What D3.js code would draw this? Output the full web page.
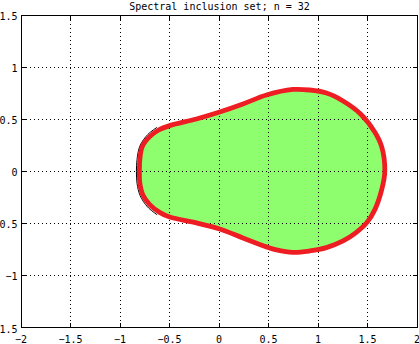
<!DOCTYPE html>
<html>
<head>
<meta charset="utf-8">
<script src="https://cdn.jsdelivr.net/npm/d3@7"></script>
<style>
  html, body { margin: 0; padding: 0; background: #fff; }
  svg { display: block; }
  text { font-family: "DejaVu Sans Mono", monospace; font-size: 10px; fill: #000; }
</style>
</head>
<body>
<script>
// Spectral inclusion set, n = 32

var titleText = "Spectral inclusion set; n = 32";

var xTicks = [-2, -1.5, -1, -0.5, 0, 0.5, 1, 1.5, 2];
var yTicks = [-1.5, -1, -0.5, 0, 0.5, 1, 1.5];

// red boundary curve (counter-clockwise from the right)
var boundX = [1.675, 1.643, 1.573, 1.430, 1.253, 1.085, 0.916, 0.747, 0.479, 0.242, 0.007, -0.228, -0.498, -0.609, -0.700, -0.776, -0.800,
              -0.804, -0.800, -0.770, -0.700, -0.600, -0.498, -0.228, 0.007, 0.242, 0.479, 0.580, 0.747, 0.916, 1.085, 1.253, 1.381, 1.492, 1.573, 1.643];
var boundY = [0.000, 0.236, 0.377, 0.550, 0.675, 0.751, 0.780, 0.785, 0.732, 0.646, 0.569, 0.502, 0.438, 0.396, 0.332, 0.236, 0.110,
              0.000, -0.112, -0.225, -0.320, -0.395, -0.440, -0.496, -0.554, -0.640, -0.726, -0.755, -0.779, -0.765, -0.733, -0.669, -0.591, -0.495, -0.371, -0.179];

// thin black edge that peeks out on the left side
var edgeX = [-0.625, -0.718, -0.798, -0.828, -0.834, -0.828, -0.796, -0.722, -0.625];
var edgeY = [0.422, 0.354, 0.245, 0.112, 0.000, -0.115, -0.235, -0.342, -0.418];

function init() {
    var w = 419;
    var h = 344;

    var svg = d3.select("body")
                .append("svg")
                .attr("width", w)
                .attr("height", h);

    var xScale = d3.scaleLinear().domain([-2, 2]).range([21, 417]);
    var yScale = d3.scaleLinear().domain([-1.5, 1.5]).range([327.5, 15]);

    // snap to pixel centres so 1px lines stay crisp
    function px(v) { return Math.floor(v) + 0.5; }

    var x0 = px(xScale(-2)), x1 = px(xScale(2));
    var y0 = px(yScale(-1.5)), y1 = px(yScale(1.5));

    // patch + boundary
    var boundPts = boundX.map(function (d, i) { return [d, boundY[i]]; });
    var edgePts = edgeX.map(function (d, i) { return [d, edgeY[i]]; });

    var closedLine = d3.line()
        .x(function (d) { return xScale(d[0]); })
        .y(function (d) { return yScale(d[1]); })
        .curve(d3.curveCatmullRomClosed);

    var openLine = d3.line()
        .x(function (d) { return xScale(d[0]); })
        .y(function (d) { return yScale(d[1]); })
        .curve(d3.curveCatmullRom);

    svg.append("path")
        .attr("d", closedLine(boundPts))
        .attr("fill", "#8ffe6e")
        .attr("stroke", "none");

    // dotted grid (drawn over the patch, as in the original)
    var grid = svg.append("g")
        .attr("stroke", "#000")
        .attr("stroke-width", 1)
        .attr("stroke-dasharray", "1,3")
        .attr("shape-rendering", "crispEdges");

    grid.selectAll("line.gx")
        .data(xTicks.slice(1, -1))
        .enter()
        .append("line")
        .attr("class", "gx")
        .attr("x1", function (d) { return px(xScale(d)); })
        .attr("x2", function (d) { return px(xScale(d)); })
        .attr("y1", y1)
        .attr("y2", y0);

    grid.selectAll("line.gy")
        .data(yTicks.slice(1, -1))
        .enter()
        .append("line")
        .attr("class", "gy")
        .attr("y1", function (d) { return px(yScale(d)); })
        .attr("y2", function (d) { return px(yScale(d)); })
        .attr("x1", x0)
        .attr("x2", x1);

    svg.append("path")
        .attr("d", openLine(edgePts))
        .attr("fill", "none")
        .attr("stroke", "#000")
        .attr("stroke-width", 1);

    svg.append("path")
        .attr("d", closedLine(boundPts))
        .attr("fill", "none")
        .attr("stroke", "#ee1d23")
        .attr("stroke-width", 4.8)
        .attr("stroke-linejoin", "round");

    // axes box with inward ticks on all four sides
    var axes = svg.append("g")
        .attr("stroke", "#000")
        .attr("stroke-width", 1)
        .attr("shape-rendering", "crispEdges");

    axes.append("rect")
        .attr("x", x0).attr("y", y1)
        .attr("width", x1 - x0).attr("height", y0 - y1)
        .attr("fill", "none");

    var tl = 5;
    xTicks.forEach(function (d) {
        var x = px(xScale(d));
        axes.append("line").attr("x1", x).attr("x2", x).attr("y1", y0).attr("y2", y0 - tl);
        axes.append("line").attr("x1", x).attr("x2", x).attr("y1", y1).attr("y2", y1 + tl);
    });
    yTicks.forEach(function (d) {
        var y = px(yScale(d));
        axes.append("line").attr("y1", y).attr("y2", y).attr("x1", x0).attr("x2", x0 + tl);
        axes.append("line").attr("y1", y).attr("y2", y).attr("x1", x1).attr("x2", x1 - tl);
    });

    // tick labels (the minus signs of the y labels fall off the left edge, as in the original)
    svg.selectAll("text.xl")
        .data(xTicks)
        .enter()
        .append("text")
        .attr("class", "xl")
        .attr("x", function (d) { return xScale(d); })
        .attr("y", 343)
        .attr("text-anchor", "middle")
        .text(function (d) { return d3.format("")(d); });

    svg.selectAll("text.yl")
        .data(yTicks)
        .enter()
        .append("text")
        .attr("class", "yl")
        .attr("x", 17.5)
        .attr("y", function (d) { return yScale(d) + 5; })
        .attr("text-anchor", "end")
        .text(function (d) { return d3.format("")(d); });

    // title
    svg.append("text")
        .attr("x", (x0 + x1) / 2)
        .attr("y", 10)
        .attr("text-anchor", "middle")
        .text(titleText);
}

window.onload = init;
</script>
</body>
</html>
